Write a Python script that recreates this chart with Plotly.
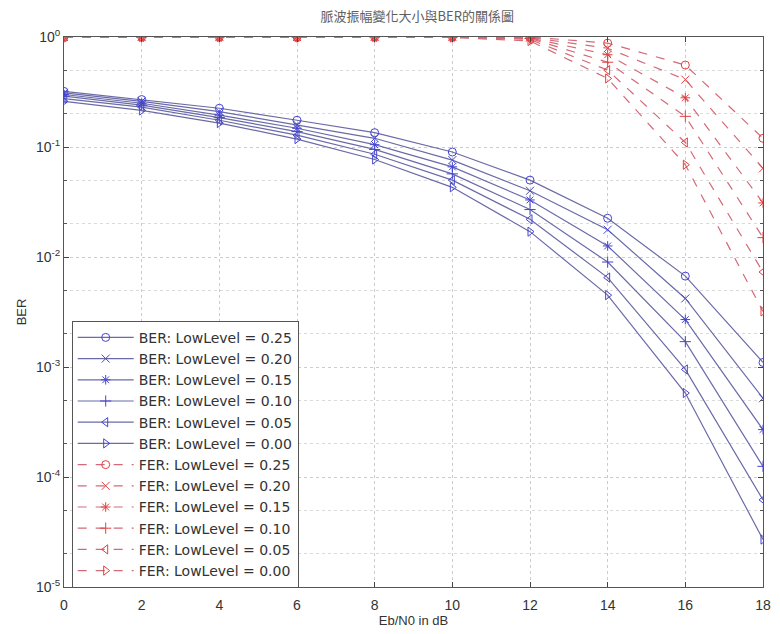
import plotly.graph_objects as go

ebn0 = [0, 2, 4, 6, 8, 10, 12, 14, 16, 18]
levels = ["0.25", "0.20", "0.15", "0.10", "0.05", "0.00"]

ber_025 = [0.32, 0.27, 0.225, 0.175, 0.135, 0.09, 0.05, 0.0225, 0.0067, 0.0011]
ber_020 = [0.31, 0.26, 0.21, 0.16, 0.12, 0.076, 0.040, 0.0177, 0.0042, 0.00052]
ber_015 = [0.30, 0.25, 0.195, 0.148, 0.105, 0.066, 0.033, 0.0126, 0.0027, 0.00027]
ber_010 = [0.29, 0.24, 0.185, 0.138, 0.095, 0.057, 0.027, 0.0090, 0.0017, 0.000125]
ber_005 = [0.275, 0.23, 0.175, 0.128, 0.086, 0.050, 0.022, 0.0065, 0.00095, 0.000062]
ber_000 = [0.26, 0.215, 0.165, 0.118, 0.077, 0.043, 0.017, 0.0045, 0.00058, 0.000027]

fer_025 = [1, 1, 1, 1, 1, 1, 1.0, 0.88, 0.556, 0.12]
fer_020 = [1, 1, 1, 1, 1, 1, 0.99, 0.79, 0.41, 0.064]
fer_015 = [1, 1, 1, 1, 1, 1, 0.98, 0.69, 0.28, 0.031]
fer_010 = [1, 1, 1, 1, 1, 1, 0.97, 0.59, 0.19, 0.015]
fer_005 = [1, 1, 1, 1, 1, 1, 0.95, 0.50, 0.11, 0.0073]
fer_000 = [1, 1, 1, 1, 1, 0.99, 0.92, 0.42, 0.069, 0.0032]

ber_series = [ber_025, ber_020, ber_015, ber_010, ber_005, ber_000]
fer_series = [fer_025, fer_020, fer_015, fer_010, fer_005, fer_000]
symbols = ["circle-open", "x-thin-open", "asterisk-open", "cross-thin-open",
           "triangle-left-open", "triangle-right-open"]

BLUE_LINE = "#6a6aa8"
BLUE_MARK = "#4545d0"
RED_LINE = "#d46a78"
RED_MARK = "#e04040"

fig = go.Figure()
for lv, ys, sym in zip(levels, ber_series, symbols):
    fig.add_trace(go.Scatter(
        x=ebn0, y=ys, mode="lines+markers", name=f"BER: LowLevel = {lv}",
        line=dict(color=BLUE_LINE, width=1.2),
        marker=dict(symbol=sym, size=8, color=BLUE_MARK, line=dict(color=BLUE_MARK, width=1)),
    ))
for lv, ys, sym in zip(levels, fer_series, symbols):
    fig.add_trace(go.Scatter(
        x=ebn0, y=ys, mode="lines+markers", name=f"FER: LowLevel = {lv}",
        line=dict(color=RED_LINE, width=1.2, dash="dash"),
        marker=dict(symbol=sym, size=8, color=RED_MARK, line=dict(color=RED_MARK, width=1)),
    ))

ytickvals = [1, 0.1, 0.01, 0.001, 0.0001, 0.00001]
yticktext = ["10<sup>0</sup>", "10<sup>-1</sup>", "10<sup>-2</sup>",
             "10<sup>-3</sup>", "10<sup>-4</sup>", "10<sup>-5</sup>"]

fig.update_layout(
    width=780, height=634,
    margin=dict(l=64, r=9, t=37, b=47),
    paper_bgcolor="white", plot_bgcolor="white",
    font=dict(family="Liberation Sans, Arial", size=13, color="#333333"),
    title=dict(text="脈波振幅變化大小與BER的關係圖", x=0.535, xanchor="center",
               y=0.982, yanchor="top",
               font=dict(family="Noto Sans CJK TC", size=13, color="#606060")),
    showlegend=True,
    legend=dict(x=0.011, y=0.484, xanchor="left", yanchor="top",
                bgcolor="white", bordercolor="#555555", borderwidth=1,
                font=dict(family="DejaVu Sans", size=14, color="#333333"), itemwidth=56),
    xaxis=dict(range=[0, 18], tickvals=ebn0, ticks="inside", ticklen=5,
               showline=True, linecolor="#555555", mirror="ticks",
               showgrid=True, gridcolor="#cccccc", griddash="dot", gridwidth=1,
               zeroline=False, tickfont=dict(size=14), ticklabelstandoff=5,
               title=dict(text="Eb/N0 in dB", font=dict(size=13), standoff=2)),
    yaxis=dict(type="log", range=[-5, 0], tickvals=ytickvals, ticktext=yticktext,
               ticks="inside", ticklen=5,
               showline=True, linecolor="#555555", mirror="ticks",
               showgrid=True, gridcolor="#cccccc", griddash="dot", gridwidth=1,
               minor=dict(ticks="inside", ticklen=3, showgrid=True,
                          gridcolor="#dadada", griddash="dot", tickcolor="#555555"),
               zeroline=False, tickfont=dict(size=14),
               title=dict(text="BER", font=dict(size=13), standoff=6)),
)

fig.write_html("out.html")
